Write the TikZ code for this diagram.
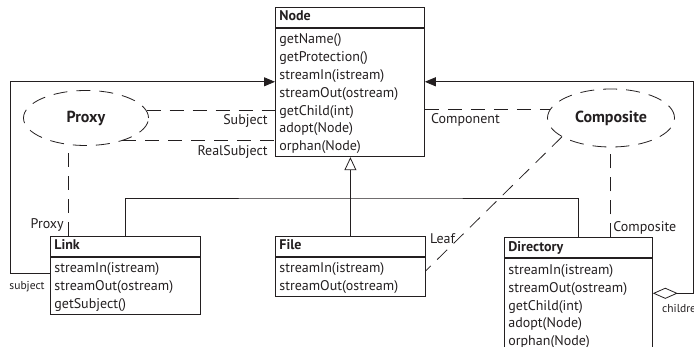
\documentclass[tikz,border=0pt]{standalone}
\usepackage{fontspec}
\setmainfont{PT Sans}
\usetikzlibrary{arrows.meta,shapes.geometric}
\definecolor{ink}{HTML}{231F20}
\newcommand{\rowstrut}{\rule[-4pt]{0pt}{17.8pt}}
\begin{document}
\begin{tikzpicture}[x=1pt,y=1pt,color=ink,line width=.8pt,
  ctitle/.style={draw, anchor=north west, minimum height=20pt, inner xsep=4pt, inner ysep=0pt,
    text height=10pt, text depth=3pt, align=left, font=\fontsize{14}{16}\selectfont\bfseries},
  cbody/.style={draw, anchor=north west, inner xsep=4pt, inner ysep=2pt, align=left,
    font=\fontsize{14}{17.8}\selectfont},
  dsh/.style={dash pattern=on 14pt off 9pt},
  role/.style={ellipse, draw, dsh, inner sep=0pt, font=\fontsize{16}{18}\selectfont\bfseries},
  lbl/.style={font=\fontsize{14}{16}\selectfont, inner sep=1pt},
  slbl/.style={font=\fontsize{11.5}{14}\selectfont, inner sep=1pt},
  assoc/.style={-{Triangle[length=11pt,width=9pt]}},
  inh/.style={-{Triangle[open,length=13pt,width=12pt]}}
]
\useasboundingbox (0,0) rectangle (694,-347);
\clip (0,0) rectangle (694,-347);

% classes
\node[ctitle, text width=141pt] (nodeT) at (275,-7) {Node};
\node[cbody, text width=141pt] (nodeB) at (nodeT.south west)
  {\rowstrut getName()\\\rowstrut getProtection()\\\rowstrut streamIn(istream)\\\rowstrut streamOut(ostream)\\\rowstrut getChild(int)\\\rowstrut adopt(Node)\\\rowstrut orphan(Node)};

\node[ctitle, text width=142pt] (linkT) at (50,-236) {Link};
\node[cbody, text width=142pt] (linkB) at (linkT.south west)
  {\rowstrut streamIn(istream)\\\rowstrut streamOut(ostream)\\\rowstrut getSubject()};

\node[ctitle, text width=142pt] (fileT) at (275,-236) {File};
\node[cbody, text width=142pt] (fileB) at (fileT.south west)
  {\rowstrut streamIn(istream)\\\rowstrut streamOut(ostream)};

\node[ctitle, text width=140pt] (dirT) at (504,-237.5) {Directory};
\node[cbody, text width=140pt] (dirB) at (dirT.south west)
  {\rowstrut streamIn(istream)\\\rowstrut streamOut(ostream)\\\rowstrut getChild(int)\\\rowstrut adopt(Node)\\\rowstrut orphan(Node)};

% pattern roles
\node[role, minimum width=125pt, minimum height=55pt] (proxy) at (86,-118) {Proxy};
\node[role, minimum width=127pt, minimum height=58pt] (comp) at (611,-118) {Composite};

% inheritance
\coordinate (bar) at (349.5,-198);
\draw (linkT.north) |- (bar) -| (dirT.north);
\draw[inh] (fileT.north) -- (fileT.north |- nodeB.south);

% associations
\draw[assoc] ([yshift=-17pt]linkB.north west)
  node[slbl, anchor=north east, xshift=-4pt, yshift=-6pt] {subject}
  -- ++(-40pt,0) |- ([yshift=-54pt]nodeB.north west);
\draw[{Diamond[open,length=25pt,width=11pt]}-{Triangle[length=11pt,width=9pt]}]
  ([yshift=-35pt]dirB.north east)
  node[slbl, anchor=north west, xshift=8pt, yshift=-10pt] {children}
  -- ++(41pt,0) |- ([yshift=-54pt]nodeB.north east);

% role bindings
\draw[dsh] (proxy.7) -- (proxy.7 -| nodeB.west)
  node[lbl, pos=1, anchor=north east, xshift=-6pt, yshift=-3pt] {Subject};
\draw[dsh] (proxy.-32) -- (proxy.-32 -| nodeB.west)
  node[lbl, pos=1, anchor=north east, xshift=-6pt, yshift=-3pt] {RealSubject};
\draw[dsh] ([xshift=18pt]linkT.north west) -- ([xshift=18pt]linkT.north west |- proxy.south)
  node[lbl, pos=0, anchor=south east, xshift=-3pt, yshift=3pt] {Proxy};
\draw[dsh] (nodeB.east |- comp.172) -- (comp.172)
  node[lbl, pos=0, anchor=north west, xshift=5pt, yshift=-3pt] {Component};
\draw[dsh] (comp.201) -- ([yshift=-14pt]fileB.north east)
  node[lbl, pos=1, anchor=west, xshift=3pt, yshift=32pt] {Leaf};
\draw[dsh] ([xshift=106pt]dirT.north west) -- ([xshift=106pt]dirT.north west |- comp.south)
  node[lbl, pos=0, anchor=south west, xshift=2pt, yshift=2pt] {Composite};
\end{tikzpicture}
\end{document}
